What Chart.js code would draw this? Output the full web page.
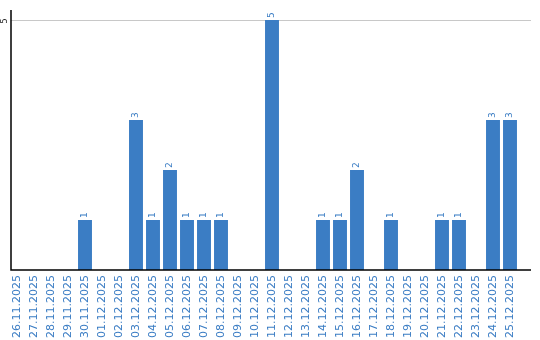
<!DOCTYPE html>
<html>
<head>
<meta charset="utf-8">
<script src="https://cdn.jsdelivr.net/npm/chart.js@4/dist/chart.umd.min.js"></script>
<style>
  html, body { margin: 0; padding: 0; background: #fff; }
  canvas { display: block; }
</style>
</head>
<body>
<canvas id="dayChart" width="540" height="340"></canvas>
<script>
// Days shown on the x axis
const days = [
    "26.11.2025", "27.11.2025", "28.11.2025", "29.11.2025", "30.11.2025",
    "01.12.2025", "02.12.2025", "03.12.2025", "04.12.2025", "05.12.2025",
    "06.12.2025", "07.12.2025", "08.12.2025", "09.12.2025", "10.12.2025",
    "11.12.2025", "12.12.2025", "13.12.2025", "14.12.2025", "15.12.2025",
    "16.12.2025", "17.12.2025", "18.12.2025", "19.12.2025", "20.12.2025",
    "21.12.2025", "22.12.2025", "23.12.2025", "24.12.2025", "25.12.2025"
];
// Count per day
const counts = [0, 0, 0, 0, 1, 0, 0, 3, 1, 2, 1, 1, 1, 0, 0, 5, 0, 0, 1, 1, 2, 0, 1, 0, 0, 1, 1, 0, 3, 3];
// The only y tick that is labelled
const yTicks = [5];

const BLUE = "#3b7dc4";

// Axis lines, the gridline and the rotated tick / value labels
const decorations = {
    id: "decorations",
    beforeDatasetsDraw(chart) {
        const { ctx, chartArea, scales } = chart;
        const y = scales.y;
        const left = 11, right = 531;
        ctx.save();
        ctx.strokeStyle = "#c8c8c8";
        ctx.lineWidth = 1;
        yTicks.forEach(t => {
            const py = Math.round(y.getPixelForValue(t)) + 0.5;
            ctx.beginPath();
            ctx.moveTo(left, py);
            ctx.lineTo(right, py);
            ctx.stroke();
        });
        ctx.restore();
    },
    afterDatasetsDraw(chart) {
        const { ctx, chartArea, scales } = chart;
        const y = scales.y;
        const left = 11, right = 531;
        const base = y.getPixelForValue(0);
        ctx.save();
        ctx.strokeStyle = "#000";
        ctx.lineWidth = 1.5;
        ctx.beginPath();
        ctx.moveTo(left, chartArea.top);
        ctx.lineTo(left, base);
        ctx.lineTo(right, base);
        ctx.stroke();

        // y tick labels, rotated
        ctx.fillStyle = "#222";
        ctx.font = "8px 'DejaVu Sans'";
        ctx.textAlign = "center";
        ctx.textBaseline = "middle";
        yTicks.forEach(t => {
            ctx.save();
            ctx.translate(5, y.getPixelForValue(t) + 1);
            ctx.rotate(-Math.PI / 2);
            ctx.fillText(String(t), 0, 0);
            ctx.restore();
        });

        // value labels above the bars
        const meta = chart.getDatasetMeta(0);
        ctx.fillStyle = BLUE;
        ctx.font = "9px 'DejaVu Sans'";
        ctx.textAlign = "left";
        ctx.textBaseline = "middle";
        meta.data.forEach((bar, i) => {
            if (!counts[i]) return;
            ctx.save();
            ctx.translate(bar.x, bar.y - 2);
            ctx.rotate(-Math.PI / 2);
            ctx.fillText(String(counts[i]), 0, 0);
            ctx.restore();
        });
        ctx.restore();
    }
};

new Chart(document.getElementById("dayChart"), {
    type: "bar",
    data: {
        labels: days,
        datasets: [{
            data: counts,
            backgroundColor: BLUE,
            barPercentage: 0.82,
            categoryPercentage: 1
        }]
    },
    options: {
        responsive: false,
        animation: false,
        layout: { padding: { left: 8.5, right: 21.5, top: 10, bottom: 0 } },
        scales: {
            x: {
                grid: { display: false, drawTicks: false },
                border: { display: false },
                ticks: {
                    color: BLUE,
                    font: { family: "DejaVu Sans", size: 11 },
                    minRotation: 90,
                    maxRotation: 90,
                    autoSkip: false,
                    padding: 5
                },
                afterFit: s => { s.height = 70; }
            },
            y: {
                display: false,
                min: 0,
                max: 5.2
            }
        },
        plugins: {
            legend: { display: false },
            tooltip: { enabled: false }
        }
    },
    plugins: [decorations]
});
</script>
</body>
</html>
